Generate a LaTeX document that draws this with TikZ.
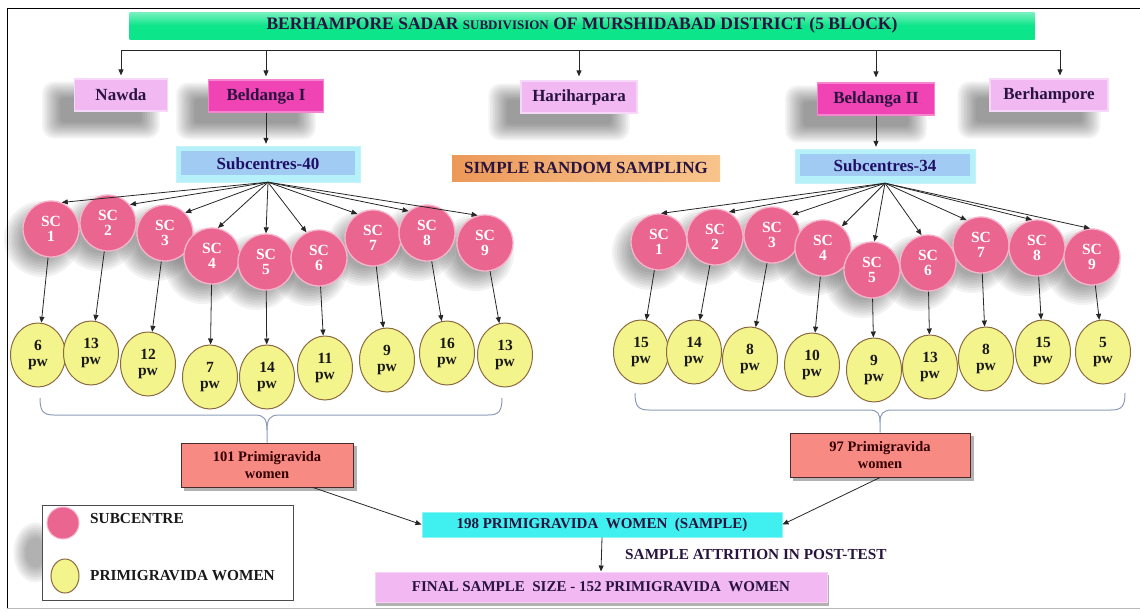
\documentclass[tikz,border=0pt]{standalone}
\usepackage{fontspec}
\setmainfont{Liberation Serif}
\usetikzlibrary{arrows.meta,shapes.geometric,backgrounds}
\definecolor{bannergreen}{HTML}{0CE58A}
\definecolor{lpink}{HTML}{F2B8F2}
\definecolor{mag}{HTML}{F043B4}
\definecolor{cyanout}{HTML}{B6F0F8}
\definecolor{bluein}{HTML}{A2CBF4}
\definecolor{orngL}{HTML}{EC9858}
\definecolor{orngR}{HTML}{F8C48C}
\definecolor{scpink}{HTML}{EA6690}
\definecolor{scrim}{HTML}{F6B4CC}
\definecolor{pwyel}{HTML}{F4F48C}
\definecolor{pwbrown}{HTML}{8A6A40}
\definecolor{salmon}{HTML}{F88A84}
\definecolor{salmonedge}{HTML}{4A2A2A}
\definecolor{cyanbox}{HTML}{40F0F0}
\definecolor{bracecol}{HTML}{8C9CB8}
\definecolor{txt}{HTML}{28143E}
\newcommand{\boxshadow}[3]{%
  \begin{pgfonlayer}{background}
  \foreach \k in {0,...,11}{
    \fill[black, opacity=0.04, rounded corners={(12-\k*0.8)*1pt}]
      ([shift={({#2pt-12pt+\k*1.7pt},{#3pt-12pt+\k*1.5pt})}]#1.south west) rectangle
      ([shift={({#2pt+12pt-\k*1.7pt},{#3pt+12pt-\k*1.5pt})}]#1.north east);
  }
  \end{pgfonlayer}}
\newcommand{\circshadow}[1]{%
  \begin{pgfonlayer}{background}
  \foreach \k in {0,...,7}{
    \fill[black, opacity=0.05] ([shift={(-9pt,-10pt)}]#1.center) circle[radius={(38-\k*2.5)*1pt}];
  }
  \end{pgfonlayer}}
\tikzset{
  fnt/.style={font=\bfseries\fontsize{#1}{#1}\selectfont},
  blk/.style={rectangle, minimum height=32pt, inner sep=0pt, text=txt, fnt=17},
  lightblk/.style={blk, fill=lpink, draw=lpink!55!white, line width=1.2pt},
  darkblk/.style={blk, fill=mag, draw=mag!65!white, line width=1.2pt},
  subbox/.style={rectangle, inner sep=0pt, fill=cyanout, draw=cyanout!80!white, text=txt!80!blue, fnt=17,
    path picture={\fill[bluein] ([shift={(5pt,-5pt)}]path picture bounding box.north west) rectangle ([shift={(-5pt,7pt)}]path picture bounding box.south east);}},
  sc/.style={circle, minimum size=56pt, inner sep=0pt, fill=scpink, draw=scrim, line width=1.3pt, text=white, align=center, fnt=15.5},
  pw/.style={ellipse, minimum width=55pt, minimum height=64pt, inner sep=0pt, fill=pwyel, draw=pwbrown, line width=1pt, text=black!90, align=center, fnt=15.5},
  arr/.style={-{Triangle[length=6pt,width=5pt]}, line width=0.8pt, black!85},
  brace/.style={draw=bracecol, line width=1pt},
  redbox/.style={rectangle, inner sep=0pt, minimum width=172pt, minimum height=44pt, fill=salmon, draw=salmonedge, line width=1pt, text=black!80!red, align=center, fnt=14.5},
}
\begin{document}
\begin{tikzpicture}[x=1pt,y=-1pt]
\useasboundingbox (0,0) rectangle (1140,611);
% frame
\draw[line width=1pt] (1140,8) -- (7,8) -- (7,608);
\draw[gray!55, line width=1pt] (7,608) -- (1140,608);

% banner
\node[rectangle, inner sep=0pt, minimum width=905pt, minimum height=27pt,
      top color=bannergreen!55!white, bottom color=bannergreen, middle color=bannergreen,
      text=txt, fnt=17.5] (banner) at (582,25.5)
  {BERHAMPORE SADAR {\fontsize{13}{13}\selectfont SUBDIVISION} OF MURSHIDABAD DISTRICT (5 BLOCK)};

% blocks
\node[lightblk, minimum width=93pt] (nawda) at (121,95) {Nawda};
\node[darkblk, minimum width=115pt] (beld1) at (266,96) {Beldanga I};
\node[lightblk, minimum width=116pt] (hari) at (579,97) {Hariharpara};
\node[darkblk, minimum width=117pt] (beld2) at (876,99) {Beldanga II};
\node[lightblk, minimum width=118pt] (berh) at (1049,95) {Berhampore};
\boxshadow{nawda}{-20}{-15}
\boxshadow{beld1}{-20}{-15}
\boxshadow{hari}{-20}{-15}
\boxshadow{beld2}{-20}{-15}
\boxshadow{berh}{-20}{-15}

\coordinate (hL) at (121,50);
\coordinate (hR) at (1060,50);
\draw[line width=0.8pt, black!85] (hL) -- (hR);
\draw[arr, shorten >=3pt] (hL) -- (nawda.north);
\draw[arr, shorten >=3pt] (beld1.north |- hL) -- (beld1.north);
\draw[arr, shorten >=4pt] (hari.north |- hL) -- (hari.north);
\draw[arr, shorten >=5pt] (beld2.north |- hL) -- (beld2.north);
\draw[arr, shorten >=3pt] (hR) -- (hR |- berh.north);

% subcentres
\node[subbox, minimum width=184pt, minimum height=36pt] (sub40) at (268,164) {Subcentres-40};
\node[subbox, minimum width=180pt, minimum height=34pt] (sub34) at (885,166) {Subcentres-34};
\node[rectangle, inner sep=0pt, minimum width=268pt, minimum height=26pt,
      left color=orngL, right color=orngR, middle color=orngR!60!orngL,
      text=txt, fnt=17] (srs) at (586,168) {SIMPLE RANDOM SAMPLING};
\draw[arr, shorten >=2pt] (beld1.south) -- (beld1.south |- sub40.north);
\draw[arr, shorten >=2pt] (beld2.south) -- (beld2.south |- sub34.north);

% left subcentres
\node[sc] (lsc1) at (51,229) {SC\\1};
\node[sc] (lsc2) at (108,223) {SC\\2};
\node[sc] (lsc3) at (165,233) {SC\\3};
\node[sc] (lsc4) at (212,256) {SC\\4};
\node[sc] (lsc5) at (266,262) {SC\\5};
\node[sc] (lsc6) at (319,258) {SC\\6};
\node[sc] (lsc7) at (373,238) {SC\\7};
\node[sc] (lsc8) at (427,233) {SC\\8};
\node[sc] (lsc9) at (485,243) {SC\\9};

\node[pw] (lpw1) at (38,355) {6\\[1pt]pw};
\node[pw] (lpw2) at (91,353) {13\\[1pt]pw};
\node[pw] (lpw3) at (148,364) {12\\[1pt]pw};
\node[pw] (lpw4) at (210,377) {7\\[1pt]pw};
\node[pw] (lpw5) at (267,377) {14\\[1pt]pw};
\node[pw] (lpw6) at (325,368) {11\\[1pt]pw};
\node[pw] (lpw7) at (387,360) {9\\[1pt]pw};
\node[pw] (lpw8) at (447,353) {16\\[1pt]pw};
\node[pw] (lpw9) at (505,355) {13\\[1pt]pw};

% right subcentres
\node[sc] (rsc1) at (659,242) {SC\\1};
\node[sc] (rsc2) at (715,237) {SC\\2};
\node[sc] (rsc3) at (772,235) {SC\\3};
\node[sc] (rsc4) at (823,248) {SC\\4};
\node[sc] (rsc5) at (872,270) {SC\\5};
\node[sc] (rsc6) at (928,263) {SC\\6};
\node[sc] (rsc7) at (981,245) {SC\\7};
\node[sc] (rsc8) at (1037,248) {SC\\8};
\node[sc] (rsc9) at (1092,257) {SC\\9};

\node[pw] (rpw1) at (641,352) {15\\[1pt]pw};
\node[pw] (rpw2) at (694,352) {14\\[1pt]pw};
\node[pw] (rpw3) at (750,359) {8\\[1pt]pw};
\node[pw] (rpw4) at (812,365) {10\\[1pt]pw};
\node[pw] (rpw5) at (874,370) {9\\[1pt]pw};
\node[pw] (rpw6) at (930,367) {13\\[1pt]pw};
\node[pw] (rpw7) at (986,359) {8\\[1pt]pw};
\node[pw] (rpw8) at (1043,352) {15\\[1pt]pw};
\node[pw] (rpw9) at (1103,352) {5\\[1pt]pw};

\foreach \i in {1,...,9}{
  \circshadow{lsc\i}
  \circshadow{rsc\i}
  \draw[arr] (lsc\i) -- (lpw\i);
  \draw[arr] (rsc\i) -- (rpw\i);
}
\foreach \i/\a in {1/68,2/40,3/45,4/78,5/90,6/116,7/123,8/130,9/105}{
  \draw[arr] (sub40.south) -- (lsc\i.\a);
}
\foreach \i/\a in {1/86,2/61,3/45,4/49,5/85,6/103,7/120,8/100,9/94}{
  \draw[arr] (sub34.south) -- (rsc\i.\a);
}

% totals
\node[redbox] (b101) at (267,465) {101 Primigravida\\[3pt]women};
\node[redbox, minimum width=180pt] (b97) at (880,455) {97 Primigravida\\[3pt]women};
\begin{pgfonlayer}{background}
\fill[black, opacity=0.3] ([shift={(3pt,-3pt)}]b101.south west) rectangle ([shift={(3pt,-3pt)}]b101.north east);
\fill[black, opacity=0.3] ([shift={(3pt,-3pt)}]b97.south west) rectangle ([shift={(3pt,-3pt)}]b97.north east);
\end{pgfonlayer}

% braces
\draw[brace] (40,398) .. controls (40,411) and (43,415) .. (54,415) -- (255,415)
  .. controls (264,415) and (267,419) .. (267,430) -- (b101.north);
\draw[brace] (502,398) .. controls (502,411) and (499,415) .. (488,415) -- (279,415)
  .. controls (270,415) and (267,419) .. (267,430);
\draw[brace] (635,393) .. controls (635,406) and (638,410) .. (649,410) -- (869,410)
  .. controls (878,410) and (880,414) .. (880,422) -- (b97.north);
\draw[brace] (1125,393) .. controls (1125,406) and (1122,410) .. (1111,410) -- (892,410)
  .. controls (883,410) and (880,414) .. (880,422);

\node[rectangle, inner sep=0pt, minimum width=360pt, minimum height=25pt, fill=cyanbox,
      draw=cyanbox!60!white, line width=1pt, text=txt, fnt=15] (s198) at (602,524.5)
  {198 PRIMIGRAVIDA\ \ WOMEN\ \ (SAMPLE)};
\node[rectangle, inner sep=0pt, minimum width=452pt, minimum height=30pt, fill=lpink,
      draw=lpink!60!white, line width=1pt, text=txt, fnt=15] (final) at (601,587)
  {FINAL SAMPLE\ \ SIZE - 152 PRIMIGRAVIDA\ \ WOMEN};
\begin{pgfonlayer}{background}
\fill[black, opacity=0.3] ([shift={(1pt,-3pt)}]final.south west) rectangle ([shift={(1pt,-3pt)}]final.north east);
\end{pgfonlayer}
\node[anchor=west, inner sep=0pt, text=txt, fnt=15.3] (attr) at (625,554) {SAMPLE ATTRITION IN POST-TEST};

\draw[arr] ([xshift=46pt]b101.south) -- (s198.west);
\draw[arr] (b97.south) -- (s198.east);
\draw[arr] (s198.south) -- (final.north);

% legend
\node[rectangle, minimum width=251pt, minimum height=95pt, fill=white, draw=black!70, line width=1pt] (legend) at (167.5,552.5) {};
\begin{pgfonlayer}{background}
\foreach \k in {0,...,6}{
  \fill[black, opacity=0.05] ([xshift=-6pt]legend.west) ellipse [x radius={(22-\k*2)*1pt}, y radius={(30-\k*2.5)*1pt}];
}
\end{pgfonlayer}
\node[circle, minimum size=32pt, inner sep=0pt, fill=scpink, draw=scrim, line width=1pt] (legsc) at (63,523) {};
\node[ellipse, minimum width=28pt, minimum height=34pt, inner sep=0pt, fill=pwyel, draw=pwbrown, line width=1pt] (legpw) at (65,576) {};
\node[anchor=west, inner sep=0pt, text=black!90, fnt=15.3] (legt1) at (90,518) {SUBCENTRE};
\node[anchor=west, inner sep=0pt, text=black!90, fnt=15.3] (legt2) at (90,576) {PRIMIGRAVIDA WOMEN};
\end{tikzpicture}
\end{document}
